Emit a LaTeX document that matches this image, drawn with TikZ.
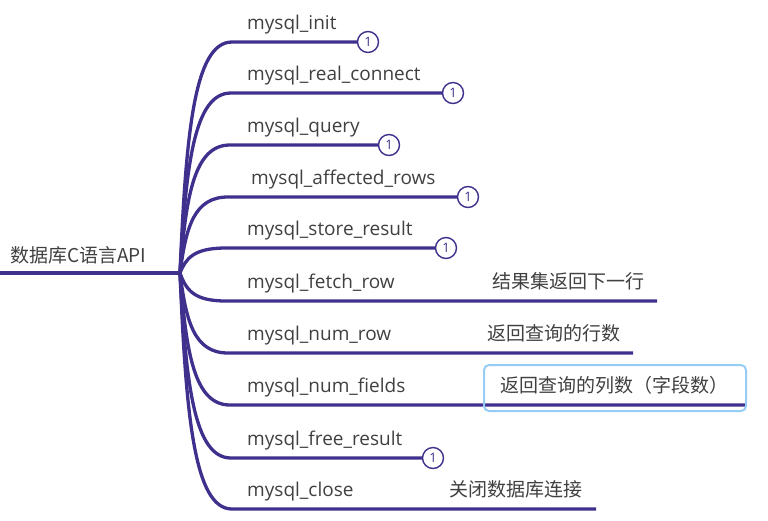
\documentclass[tikz,border=0pt]{standalone}
\usepackage{fontspec}
\setmainfont{Open Sans}
\newfontfamily\cjk{Noto Sans CJK SC}
\definecolor{branch}{RGB}{62,48,140}
\definecolor{txt}{RGB}{64,64,64}
\definecolor{hl}{RGB}{150,205,245}
\begin{document}
\begin{tikzpicture}[x=1pt,y=-1pt,
  link/.style={draw=branch,line width=3.3pt},
  lbl/.style={anchor=base west,inner sep=0pt,text=txt,font=\fontsize{19}{19}\selectfont},
  note/.style={anchor=base west,inner sep=0pt,text=txt,font=\fontsize{19}{19}\selectfont\cjk},
  badge/.style={circle,draw=branch,line width=1.4pt,fill=white,minimum size=21pt,inner sep=0pt,text=branch,font=\fontsize{13}{13}\selectfont}]
\useasboundingbox (0,0) rectangle (768,520);
% root
\node[note] (root) at (10,262) {数据库C语言API};
\coordinate (L) at (0,273);
\coordinate (J) at (180,273);
\draw[link] (L) -- (J);
% labels
\node[lbl] (t1) at (247,29) {mysql\_init};
\node[lbl] (t2) at (247,80) {mysql\_real\_connect};
\node[lbl] (t3) at (247,132) {mysql\_query};
\node[lbl] (t4) at (251,184) {mysql\_affected\_rows};
\node[lbl] (t5) at (247,235) {mysql\_store\_result};
\node[lbl] (t6) at (247,288) {mysql\_fetch\_row};
\node[lbl] (t7) at (247,340) {mysql\_num\_row};
\node[lbl] (t8) at (247,392) {mysql\_num\_fields};
\node[lbl] (t9) at (247,445) {mysql\_free\_result};
\node[lbl] (t10) at (247,496) {mysql\_close};
% badges
\node[badge] (c1) at (368,42) {1};
\node[badge] (c2) at (453,93) {1};
\node[badge] (c3) at (389,145) {1};
\node[badge] (c4) at (468,197) {1};
\node[badge] (c5) at (446,248) {1};
\node[badge] (c9) at (433,458) {1};
% notes
\node[note] (n6) at (492,288) {结果集返回下一行};
\node[note] (n7) at (487,340) {返回查询的行数};
\node[note] (n8) at (500,392) {返回查询的列数（字段数）};
\node[note] (n10) at (449,496) {关闭数据库连接};
% line ends
\coordinate (e6) at (657,301);
\coordinate (e7) at (633,353);
\coordinate (e8) at (745,405);
\coordinate (e10) at (596,509);
% branch start points
\coordinate (b1) at (232,42);
\coordinate (b2) at (231,93);
\coordinate (b3) at (230,145);
\coordinate (b4) at (228,197);
\coordinate (b5) at (226,248);
\coordinate (b6) at (226,301);
\coordinate (b7) at (228,353);
\coordinate (b8) at (230,405);
\coordinate (b9) at (231,458);
\coordinate (b10) at (232,509);
% branches
\draw[link] (J) .. controls (186,134) and (194,42) .. (b1) -- (c1.west);
\draw[link] (J) .. controls (186,165) and (194,93) .. (b2) -- (c2.west);
\draw[link] (J) .. controls (186,196) and (194,145) .. (b3) -- (c3.west);
\draw[link] (J) .. controls (186,227) and (194,197) .. (b4) -- (c4.west);
\draw[link] (J) .. controls (186,258) and (194,248) .. (b5) -- (c5.west);
\draw[link] (J) .. controls (186,290) and (194,301) .. (b6) -- (e6);
\draw[link] (J) .. controls (186,321) and (194,353) .. (b7) -- (e7);
\draw[link] (J) .. controls (186,352) and (194,405) .. (b8) -- (e8);
\draw[link] (J) .. controls (186,384) and (194,458) .. (b9) -- (c9.west);
\draw[link] (J) .. controls (186,415) and (194,509) .. (b10) -- (e10);
% highlight box
\draw[hl,line width=2pt,rounded corners=5pt] (484,365) rectangle (746,411);
\end{tikzpicture}
\end{document}
